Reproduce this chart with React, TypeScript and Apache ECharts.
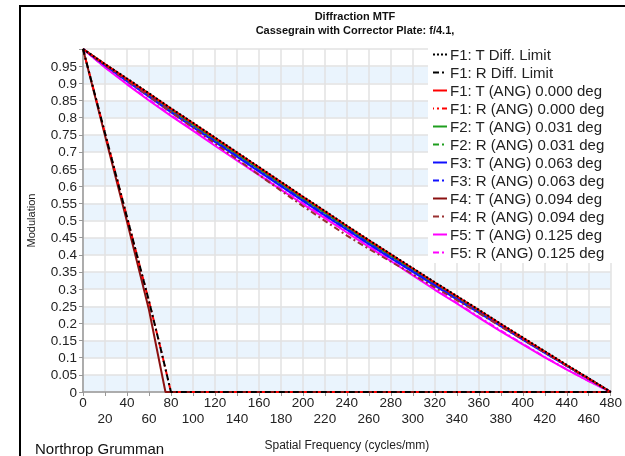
import React, { useEffect, useRef } from "react";
import * as echarts from "echarts";

const freq = [0, 20, 40, 60, 80, 100, 120, 140, 160, 180, 200, 220, 240, 260, 280, 300, 320, 340, 360, 380, 400, 420, 440, 460, 480];
const diffT = [1, 0.956, 0.914, 0.871, 0.827, 0.785, 0.742, 0.699, 0.656, 0.613, 0.57, 0.528, 0.485, 0.443, 0.402, 0.361, 0.32, 0.28, 0.24, 0.199, 0.159, 0.119, 0.079, 0.04, 0];
const f1T = [1, 0.956, 0.913, 0.87, 0.826, 0.784, 0.741, 0.698, 0.655, 0.612, 0.569, 0.527, 0.484, 0.442, 0.401, 0.36, 0.319, 0.279, 0.239, 0.198, 0.158, 0.118, 0.078, 0.039, 0];
const f2T = [1, 0.954, 0.91, 0.866, 0.822, 0.779, 0.736, 0.693, 0.65, 0.607, 0.564, 0.522, 0.479, 0.437, 0.396, 0.355, 0.315, 0.275, 0.235, 0.195, 0.155, 0.116, 0.077, 0.038, 0];
const f2R = [1, 0.955, 0.911, 0.867, 0.823, 0.78, 0.737, 0.694, 0.651, 0.608, 0.565, 0.523, 0.48, 0.438, 0.397, 0.356, 0.316, 0.276, 0.236, 0.196, 0.156, 0.117, 0.077, 0.038, 0];
const f3T = [1, 0.952, 0.906, 0.861, 0.816, 0.772, 0.729, 0.686, 0.643, 0.6, 0.557, 0.515, 0.473, 0.431, 0.39, 0.35, 0.31, 0.27, 0.231, 0.192, 0.153, 0.114, 0.076, 0.038, 0];
const f3R = [1, 0.953, 0.908, 0.863, 0.818, 0.774, 0.731, 0.688, 0.645, 0.602, 0.559, 0.517, 0.475, 0.433, 0.392, 0.352, 0.312, 0.272, 0.233, 0.193, 0.154, 0.115, 0.076, 0.038, 0];
const f4R = [1, 0.953, 0.908, 0.862, 0.816, 0.771, 0.725, 0.679, 0.633, 0.587, 0.542, 0.499, 0.456, 0.417, 0.38, 0.343, 0.305, 0.268, 0.23, 0.191, 0.153, 0.115, 0.076, 0.039, 0];
const f5T = [1, 0.946, 0.897, 0.85, 0.805, 0.762, 0.718, 0.675, 0.633, 0.59, 0.548, 0.507, 0.465, 0.423, 0.382, 0.34, 0.298, 0.258, 0.217, 0.177, 0.139, 0.101, 0.065, 0.032, 0];
const f5R = [1, 0.947, 0.899, 0.852, 0.807, 0.764, 0.72, 0.677, 0.635, 0.592, 0.55, 0.509, 0.467, 0.425, 0.384, 0.342, 0.3, 0.26, 0.219, 0.179, 0.14, 0.102, 0.066, 0.032, 0];

// steep curves (collapse to zero near 75-80 cycles/mm)
const steepFreq = [0, 20, 40, 60, 70, 80, 480];
const diffR = [1, 0.755, 0.51, 0.265, 0.135, 0, 0];
const f1R = [1, 0.755, 0.51, 0.265, 0.135, 0, 0];
const f4TFreq = [0, 20, 40, 60, 75, 480];
const f4T = [1, 0.748, 0.497, 0.24, 0, 0];

const legendNames = [
  "F1: T Diff. Limit",
  "F1: R Diff. Limit",
  "F1: T (ANG) 0.000 deg",
  "F1: R (ANG) 0.000 deg",
  "F2: T (ANG) 0.031 deg",
  "F2: R (ANG) 0.031 deg",
  "F3: T (ANG) 0.063 deg",
  "F3: R (ANG) 0.063 deg",
  "F4: T (ANG) 0.094 deg",
  "F4: R (ANG) 0.094 deg",
  "F5: T (ANG) 0.125 deg",
  "F5: R (ANG) 0.125 deg",
];

const FONT = 'Arial, "Liberation Sans", sans-serif';
const DASHDOT = [6, 3, 2, 3];

function pairs(xs: number[], ys: number[]) {
  return xs.map((x, i) => [x, ys[i]]);
}

function mk(name: string, xs: number[], ys: number[], color: string, type: any, z = 2, width = 2, dashOffset = 0) {
  return {
    name,
    type: "line",
    xAxisIndex: 0,
    data: pairs(xs, ys),
    symbol: "none",
    showSymbol: false,
    silent: true,
    z,
    lineStyle: { color, width, type, dashOffset },
    itemStyle: { color },
  };
}

const isOdd = (v: number) => Math.round(v / 20) % 2 === 1;

export default function App() {
  const ref = useRef<HTMLDivElement>(null);
  useEffect(() => {
    if (!ref.current) return;
    const chart = echarts.init(ref.current, undefined, { renderer: "svg" });
    const series = [
      mk(legendNames[0], freq, diffT, "#000000", [2, 2], 5),
      mk(legendNames[1], steepFreq, diffR, "#000000", DASHDOT, 5),
      mk(legendNames[2], freq, f1T, "#ff0000", "solid", 4),
      mk(legendNames[3], steepFreq, f1R, "#ff0000", DASHDOT, 4, 2, 5),
      mk(legendNames[4], freq, f2T, "#1e9e1e", "solid", 3),
      mk(legendNames[5], freq, f2R, "#1e9e1e", DASHDOT, 3),
      mk(legendNames[6], freq, f3T, "#1010ff", "solid", 3),
      mk(legendNames[7], freq, f3R, "#1010ff", DASHDOT, 3),
      mk(legendNames[8], f4TFreq, f4T, "#8b1010", "solid", 3),
      mk(legendNames[9], freq, f4R, "#9a3030", DASHDOT, 3),
      mk(legendNames[10], freq, f5T, "#ff00ff", "solid", 2),
      mk(legendNames[11], freq, f5R, "#ff00ff", DASHDOT, 2),
    ];
    const labelBase = { fontSize: 13.5, color: "#222", fontFamily: FONT, showMaxLabel: true, showMinLabel: true, hideOverlap: false };
    chart.setOption({
      animation: false,
      textStyle: { fontFamily: FONT },
      grid: { left: 83, right: 10, top: 49, bottom: 52, containLabel: false },
      title: {
        text: "Diffraction MTF\nCassegrain with Corrector Plate: f/4.1,",
        left: 350,
        textAlign: "center",
        top: 4,
        textStyle: { fontSize: 11, fontWeight: "bold", color: "#111", lineHeight: 14, fontFamily: FONT },
      },
      legend: {
        orient: "vertical",
        left: 428,
        top: 44,
        itemWidth: 14,
        itemHeight: 8,
        itemGap: 3,
        padding: [3, 12, 3, 4],
        backgroundColor: "#ffffff",
        data: legendNames,
        itemStyle: { opacity: 0, borderWidth: 0 },
        textStyle: { fontSize: 15, color: "#222", fontFamily: FONT, padding: [0, 0, 0, -2] },
      },
      xAxis: [
        {
          type: "value",
          min: 0,
          max: 480,
          interval: 20,
          name: "Spatial Frequency (cycles/mm)",
          nameLocation: "middle",
          nameGap: 47,
          nameTextStyle: { fontSize: 12, color: "#222", fontFamily: FONT },
          axisLine: { show: true, lineStyle: { color: "#999", width: 1.5 } },
          axisTick: { show: true, length: 4, lineStyle: { color: "#999" } },
          splitLine: { show: true, lineStyle: { color: "#e2e2e2", width: 1.5 } },
          axisLabel: {
            ...labelBase,
            margin: 3,
            formatter: (v: number) => (isOdd(v) ? "" : String(v)),
          },
        },
        {
          type: "value",
          position: "bottom",
          min: 0,
          max: 480,
          interval: 20,
          axisLine: { show: false },
          axisTick: { show: false },
          splitLine: { show: false },
          axisLabel: {
            ...labelBase,
            margin: 19,
            formatter: (v: number) => (isOdd(v) ? String(v) : ""),
          },
        },
      ],
      yAxis: {
        type: "value",
        min: 0,
        max: 1,
        interval: 0.05,
        name: "Modulation",
        nameLocation: "middle",
        nameGap: 47,
        nameTextStyle: { fontSize: 11, color: "#222", fontFamily: FONT },
        axisLine: { show: true, lineStyle: { color: "#999", width: 1.5 } },
        axisTick: { show: true, length: 4, lineStyle: { color: "#999" } },
        splitLine: { show: true, lineStyle: { color: "#e2e2e2", width: 1.5 } },
        splitArea: { show: true, areaStyle: { color: ["#eaf4fd", "#ffffff"] } },
        axisLabel: {
          fontSize: 13.5,
          color: "#222",
          margin: 6,
          fontFamily: FONT,
          formatter: (v: number) => (v > 0.999 ? "" : String(+v.toFixed(2))),
        },
      },
      graphic: [
        {
          type: "rect",
          shape: { x: 20, y: 6, width: 700, height: 500 },
          style: { fill: "none", stroke: "#000", lineWidth: 2 },
          silent: true,
        },
        {
          type: "text",
          x: 35,
          y: 441,
          style: { text: "Northrop Grumman", fontSize: 15, fill: "#111", fontFamily: FONT },
          silent: true,
        },
      ],
      series,
    });
    return () => chart.dispose();
  }, []);
  return <div ref={ref} style={{ position: "fixed", left: 0, top: 0, width: 625, height: 456 }} />;
}
